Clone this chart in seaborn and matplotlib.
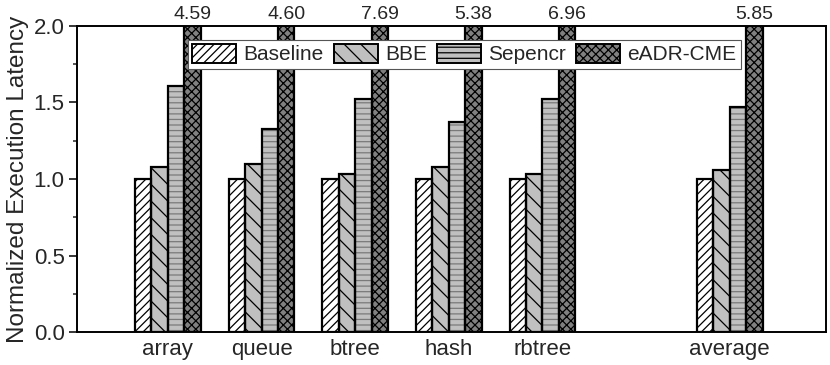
import numpy as np
import pandas as pd
import matplotlib
matplotlib.use("Agg")
import matplotlib.pyplot as plt
from matplotlib.patches import Patch, Rectangle
import seaborn as sns

# ---- data ----
categories = ["array", "queue", "btree", "hash", "rbtree", "average"]
schemes = ["Baseline", "BBE", "Sepencr", "eADR-CME"]
baseline = [1.00, 1.00, 1.00, 1.00, 1.00, 1.00]
bbe = [1.08, 1.10, 1.03, 1.08, 1.03, 1.06]
sepencr = [1.61, 1.33, 1.52, 1.37, 1.52, 1.47]
eadr_cme = [4.59, 4.60, 7.69, 5.38, 6.96, 5.85]

# blank slot between rbtree and average
order = ["array", "queue", "btree", "hash", "rbtree", " ", "average"]

face_colors = ["#ffffff", "#c0c0c0", "#c0c0c0", "#808080"]
hatch_colors = ["black", "black", "#7a7a7a", "black"]
hatches = ["////", "\\\\", "---", "xxxx"]

df = pd.DataFrame({
    "category": categories * 4,
    "scheme": np.repeat(schemes, len(categories)),
    "value": baseline + bbe + sepencr + eadr_cme,
})

sns.set_style("ticks")
plt.rcParams["font.family"] = ["Liberation Sans", "DejaVu Sans"]
plt.rcParams["hatch.linewidth"] = 0.9

fig = plt.figure(figsize=(8.3, 3.65), dpi=100)
ax = fig.add_axes([0.0928, 0.0904, 0.9027, 0.8384])

sns.barplot(data=df, x="category", y="value", hue="scheme",
            order=order, hue_order=schemes, palette=face_colors,
            width=0.7, saturation=1, legend=False, ax=ax)

# hatch each series, then redraw a black outline on top
for i, cont in enumerate(ax.containers):
    for p in cont.patches:
        p.set_hatch(hatches[i])
        p.set_edgecolor(hatch_colors[i])
        p.set_linewidth(0)
        ax.add_patch(Rectangle(p.get_xy(), p.get_width(), p.get_height(),
                               fill=False, edgecolor="black", linewidth=1.6,
                               zorder=p.get_zorder() + 0.1))

# value labels for the clipped eADR-CME bars
for p in ax.containers[3].patches:
    h = p.get_height()
    if np.isnan(h):
        continue
    ax.text(p.get_x() + p.get_width() / 2, 2.0 + 0.02, f"{h:.2f}",
            ha="center", va="bottom", fontsize=14, clip_on=False)

ax.set_ylim(0, 2.0)
ax.set_xlim(-0.97, 7.03)
ax.set_yticks([0.0, 0.5, 1.0, 1.5, 2.0])
ax.set_yticks([0.25, 0.75, 1.25, 1.75], minor=True)
ax.tick_params(axis="y", which="major", direction="out", length=6, width=1.3, labelsize=16, pad=3)
ax.tick_params(axis="y", which="minor", direction="out", length=3, width=1.1)
ax.tick_params(axis="x", length=0, labelsize=16, pad=5)
ax.set_xlabel("")
ax.set_ylabel("Normalized Execution Latency", fontsize=17.5, labelpad=3)
for s in ax.spines.values():
    s.set_visible(True)
    s.set_linewidth(1.4)
    s.set_color("black")

handles = [Patch(facecolor=face_colors[i], edgecolor="black", hatch=hatches[i],
                 linewidth=1.4, label=schemes[i]) for i in range(4)]
leg = ax.legend(handles=handles, ncol=4, loc="upper left",
                bbox_to_anchor=(0.148, 0.955), fontsize=15, frameon=True,
                fancybox=False, edgecolor="#555555", framealpha=1,
                handlelength=2.1, handleheight=1.0, handletextpad=0.35,
                columnspacing=0.5, borderpad=0.2, borderaxespad=0)
leg.get_frame().set_linewidth(0.8)

fig.savefig("out.png", dpi=100)
